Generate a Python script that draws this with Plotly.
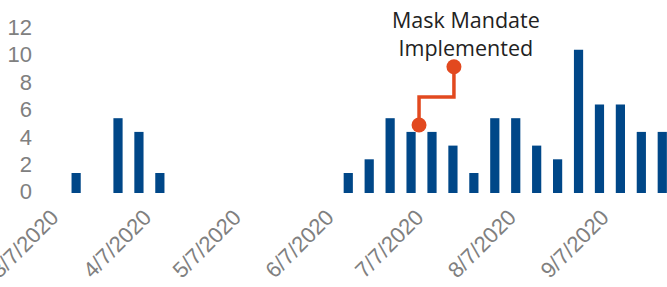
import plotly.graph_objects as go

week_dates = ["2020-03-15", "2020-03-29", "2020-04-05", "2020-04-12",
              "2020-06-14", "2020-06-21", "2020-06-28", "2020-07-05",
              "2020-07-12", "2020-07-19", "2020-07-26", "2020-08-02",
              "2020-08-09", "2020-08-16", "2020-08-23", "2020-08-30",
              "2020-09-06", "2020-09-13", "2020-09-20", "2020-09-27"]
cases = [1, 5, 4, 1, 1, 2, 5, 4, 4, 3, 1, 5, 5, 3, 2, 10, 6, 6, 4, 4]

tick_dates = ["2020-03-07", "2020-04-07", "2020-05-07", "2020-06-07",
              "2020-07-07", "2020-08-07", "2020-09-07"]
tick_labels = ["3/7/2020", "4/7/2020", "5/7/2020", "6/7/2020",
               "7/7/2020", "8/7/2020", "9/7/2020"]

y_ticks = [0, 2, 4, 6, 8, 10, 12]

callout_x = ["2020-07-07 16:00", "2020-07-07 16:00", "2020-07-19 08:00", "2020-07-19 08:00"]
callout_y = [4.5, 6.55, 6.55, 8.75]
callout_text = "Mask Mandate<br>Implemented"

BASE = -0.46
BLUE = "#004788"
RED = "#E2491F"
GRAY = "#808080"

fig = go.Figure()
fig.add_trace(go.Bar(
    x=week_dates, y=[c - BASE for c in cases], base=BASE,
    marker=dict(color=BLUE, line=dict(width=0)),
    hoverinfo="skip", cliponaxis=False,
))
fig.add_trace(go.Scatter(
    x=callout_x, y=callout_y, mode="lines",
    line=dict(color=RED, width=3.5),
    hoverinfo="skip",
))
fig.add_trace(go.Scatter(
    x=[callout_x[0], callout_x[-1]], y=[callout_y[0], callout_y[-1]], mode="markers",
    marker=dict(color=RED, size=15, opacity=1, line=dict(width=0)),
    hoverinfo="skip",
))
fig.add_annotation(
    x="2020-07-23 12:00", y=11.17, text=callout_text, showarrow=False,
    xanchor="center", yanchor="middle",
    font=dict(family="Open Sans", size=21.5, color="#222222"),
)

fig.update_layout(
    width=667, height=287,
    margin=dict(l=40, r=0, t=10, b=94, autoexpand=False),
    paper_bgcolor="white", plot_bgcolor="white",
    showlegend=False, bargap=0.56,
    xaxis=dict(
        type="date", automargin=False,
        range=["2020-03-02 22:00", "2020-09-28 14:00"],
        tickvals=tick_dates, ticktext=tick_labels, tickangle=-45,
        ticklabeloverflow="allow", ticklabelstandoff=6,
        tickfont=dict(family="Liberation Sans", size=22, color=GRAY),
        showgrid=False, zeroline=False, showline=False, ticks="",
    ),
    yaxis=dict(
        automargin=False,
        range=[BASE, BASE + 183 / 13.7],
        tickvals=y_ticks, ticktext=[str(v) for v in y_ticks],
        tickfont=dict(family="Liberation Sans", size=22, color=GRAY),
        ticklabelshift=5, ticklabelstandoff=7,
        ticklabeloverflow="allow",
        showgrid=False, zeroline=False, showline=False, ticks="",
    ),
)

fig.write_html("out.html", config={"displayModeBar": False},
               post_script="document.body.style.margin='0';")
